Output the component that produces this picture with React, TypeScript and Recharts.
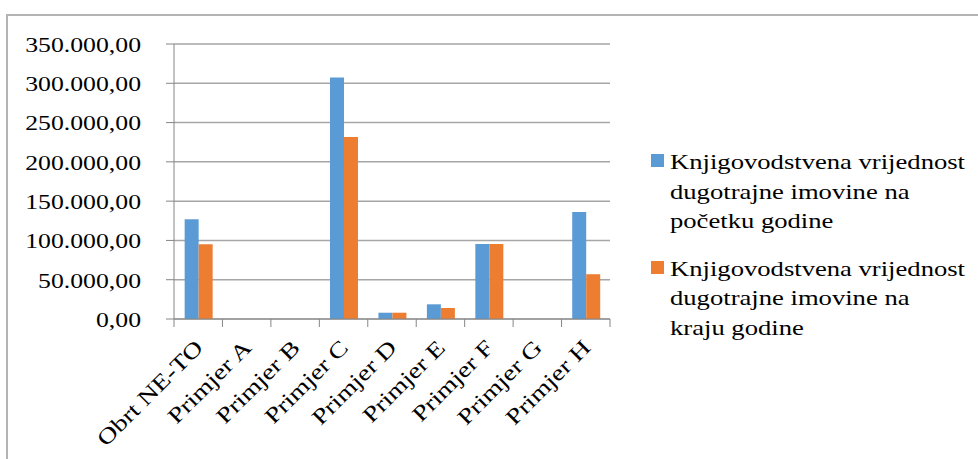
import { Bar, BarChart, CartesianGrid, XAxis, YAxis } from 'recharts'

const categories = ['Obrt NE-TO', 'Primjer A', 'Primjer B', 'Primjer C', 'Primjer D', 'Primjer E', 'Primjer F', 'Primjer G', 'Primjer H']
const startValues = [127000, 0, 0, 307500, 8000, 18700, 95300, 0, 136200]
const endValues = [95000, 0, 0, 231500, 8000, 14000, 95300, 0, 57000]
const yTicks = [0, 50000, 100000, 150000, 200000, 250000, 300000, 350000]
const seriesNames = [
    ['Knjigovodstvena vrijednost', 'dugotrajne imovine na', 'početku godine'],
    ['Knjigovodstvena vrijednost', 'dugotrajne imovine na', 'kraju godine'],
]

const BLUE = '#5b9bd5'
const ORANGE = '#ed7d31'
const FONT = '"Liberation Serif", "Times New Roman", serif'
// the reference text is a little wider than plain Times, so stretch it horizontally
const STRETCH = 1.17
const LEGEND_STRETCH = 1.21

const W = 978
const H = 459
const PLOT_LEFT = 174
const PLOT_RIGHT = 610
const PLOT_TOP = 44
const PLOT_BOTTOM = 319
const BAND = (PLOT_RIGHT - PLOT_LEFT) / categories.length

function formatValue(v: number) {
    const whole = Math.round(v).toString().replace(/\B(?=(\d{3})+(?!\d))/g, '.')
    return `${whole},00`
}

function ValueTick(props: any) {
    const { y, payload } = props
    const ax = 141
    return (
        <g>
            <line x1={PLOT_LEFT - 8} y1={y} x2={PLOT_LEFT} y2={y} stroke="#868686" />
            <text
                x={0}
                y={0}
                dy="0.36em"
                textAnchor="end"
                transform={`translate(${ax} ${y}) scale(${STRETCH} 1)`}
                fontFamily={FONT}
                fontSize={22}
                fill="#000"
            >
                {formatValue(payload.value)}
            </text>
        </g>
    )
}

function CategoryTick(props: any) {
    const { x, payload, index } = props
    const y = PLOT_BOTTOM
    const right = x + BAND / 2
    const left = x - BAND / 2
    const ax = x + 6
    const ay = y + 30
    return (
        <g>
            {index === 0 && <line x1={left} y1={y} x2={left} y2={y + 8} stroke="#868686" />}
            <line x1={right} y1={y} x2={right} y2={y + 8} stroke="#868686" />
            <text
                x={0}
                y={0}
                textAnchor="end"
                transform={`translate(${ax} ${ay}) rotate(-45) scale(1.25 1)`}
                fontFamily={FONT}
                fontSize={22}
                fill="#000"
            >
                {payload.value}
            </text>
        </g>
    )
}

function LegendBox() {
    return (
        <div
            style={{
                position: 'absolute',
                left: 651,
                top: 147,
                fontFamily: FONT,
                fontSize: 22,
                lineHeight: '29.5px',
                color: '#000',
            }}
        >
            {seriesNames.map((lines, i) => (
                <div key={i} style={{ position: 'relative', paddingLeft: 19, marginBottom: i === 0 ? 18 : 0 }}>
                    <span
                        style={{
                            position: 'absolute',
                            left: 0,
                            top: 7,
                            width: 13,
                            height: 13,
                            background: i === 0 ? BLUE : ORANGE,
                        }}
                    />
                    {lines.map((l) => (
                        <div
                            key={l}
                            style={{ whiteSpace: 'nowrap', transform: `scaleX(${LEGEND_STRETCH})`, transformOrigin: 'left center' }}
                        >
                            {l}
                        </div>
                    ))}
                </div>
            ))}
        </div>
    )
}

export default function App() {
    const data = categories.map((name, i) => ({ name, start: startValues[i], end: endValues[i] }))

    return (
        <div style={{ position: 'absolute', left: 0, top: 0, width: W, height: H, background: '#fff' }}>
            <div
                style={{
                    position: 'absolute',
                    left: 6,
                    top: 14,
                    right: 0,
                    bottom: 0,
                    borderTop: '2px solid #b4b4b4',
                    borderLeft: '2px solid #b4b4b4',
                }}
            />
            <BarChart
                width={W}
                height={H}
                data={data}
                margin={{ top: PLOT_TOP, right: W - PLOT_RIGHT, bottom: 0, left: 0 }}
                barGap={0}
                barCategoryGap="22%"
            >
                <CartesianGrid stroke="#a6a6a6" strokeWidth={1.5} vertical={false} />
                <YAxis
                    width={PLOT_LEFT}
                    domain={[0, 350000]}
                    ticks={yTicks}
                    interval={0}
                    axisLine={{ stroke: '#868686' }}
                    tickLine={false}
                    tick={<ValueTick />}
                />
                <XAxis
                    dataKey="name"
                    interval={0}
                    axisLine={{ stroke: '#868686' }}
                    tickLine={false}
                    height={H - PLOT_BOTTOM}
                    tick={<CategoryTick />}
                />
                <Bar dataKey="start" fill={BLUE} isAnimationActive={false} />
                <Bar dataKey="end" fill={ORANGE} isAnimationActive={false} />
            </BarChart>
            <LegendBox />
        </div>
    )
}
